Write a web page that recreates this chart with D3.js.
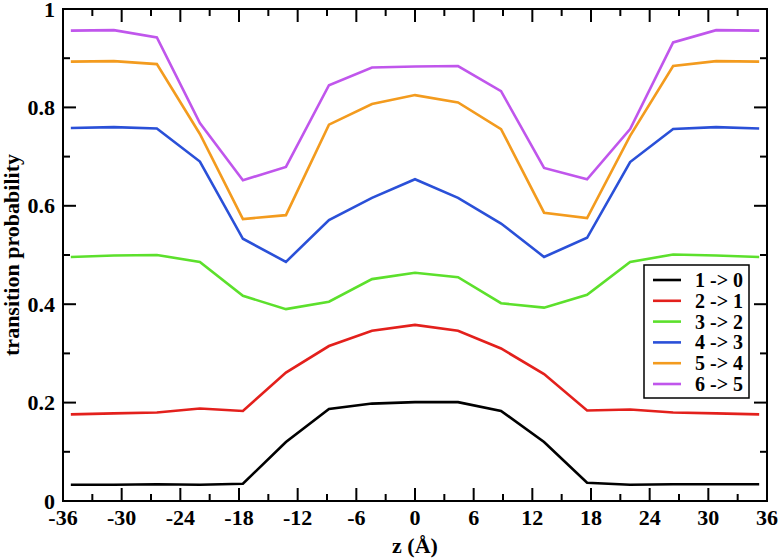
<!DOCTYPE html>
<html><head><meta charset="utf-8">
<script src="https://cdn.jsdelivr.net/npm/d3@7"></script>
<style>body{margin:0;background:#fff}svg{display:block}</style>
</head><body>
<script>
const zValues = [-35.2,-30.8,-26.4,-22,-17.6,-13.2,-8.8,-4.4,0,4.4,8.8,13.2,17.6,22,26.4,30.8,35.2];
const s10 = [0.033,0.033,0.034,0.033,0.035,0.120,0.187,0.198,0.201,0.201,0.183,0.120,0.037,0.033,0.034,0.034,0.034];
const s21 = [0.176,0.178,0.180,0.188,0.183,0.261,0.315,0.346,0.358,0.346,0.310,0.258,0.184,0.186,0.180,0.178,0.176];
const s32 = [0.496,0.499,0.500,0.486,0.417,0.390,0.405,0.451,0.464,0.455,0.402,0.393,0.419,0.486,0.501,0.499,0.496];
const s43 = [0.758,0.760,0.757,0.690,0.533,0.486,0.571,0.616,0.654,0.616,0.564,0.496,0.535,0.689,0.756,0.760,0.757];
const s54 = [0.893,0.894,0.888,0.746,0.573,0.581,0.765,0.807,0.825,0.810,0.756,0.586,0.575,0.742,0.884,0.894,0.893];
const s65 = [0.956,0.957,0.942,0.768,0.652,0.679,0.845,0.881,0.883,0.884,0.833,0.677,0.654,0.756,0.932,0.957,0.956];
const seriesNames = ["1 -> 0","2 -> 1","3 -> 2","4 -> 3","5 -> 4","6 -> 5"];
const seriesColors = ["#000000","#e3201c","#5ce02c","#2a50d8","#f39b1e","#c056ec"];
const xTicks = [-36,-30,-24,-18,-12,-6,0,6,12,18,24,30,36];
const yTickLabels = ["0","0.2","0.4","0.6","0.8","1"];
const xLabel = "z (Å)";
const yLabel = "transition probability";

const series = [s10,s21,s32,s43,s54,s65];
const W = 780, H = 559;
const m = {left:63, right:13, top:9, bottom:58};
const iw = W - m.left - m.right, ih = H - m.top - m.bottom;
const svg = d3.select("body").append("svg").attr("width",W).attr("height",H);
const g = svg.append("g").attr("transform",`translate(${m.left},${m.top})`);
const x = d3.scaleLinear().domain([-36,36]).range([0,iw]);
const y = d3.scaleLinear().domain([0,1]).range([ih,0]);
const font = "'Liberation Serif', 'Times New Roman', serif";

// lines
const line = d3.line().x((d,i)=>x(zValues[i])).y(d=>y(d));
series.forEach((s,k)=>{
  g.append("path").datum(s).attr("d",line).attr("fill","none")
   .attr("stroke",seriesColors[k]).attr("stroke-width",2.6).attr("stroke-linejoin","miter");
});

// frame
g.append("rect").attr("x",0).attr("y",0).attr("width",iw).attr("height",ih)
 .attr("fill","none").attr("stroke","#000").attr("stroke-width",2);

const major = 13, minor = 7;
const xMinor = d3.range(-33,36,6);
const yMinor = [0.1,0.3,0.5,0.7,0.9];
const yMajor = yTickLabels.map(Number);
const tk = g.append("g").attr("stroke","#000").attr("stroke-width",2);
xTicks.forEach(v=>{
  tk.append("line").attr("x1",x(v)).attr("x2",x(v)).attr("y1",ih).attr("y2",ih-major);
  tk.append("line").attr("x1",x(v)).attr("x2",x(v)).attr("y1",0).attr("y2",major);
});
xMinor.forEach(v=>{
  tk.append("line").attr("x1",x(v)).attr("x2",x(v)).attr("y1",ih).attr("y2",ih-minor);
  tk.append("line").attr("x1",x(v)).attr("x2",x(v)).attr("y1",0).attr("y2",minor);
});
yMajor.forEach(v=>{
  tk.append("line").attr("x1",0).attr("x2",major).attr("y1",y(v)).attr("y2",y(v));
  tk.append("line").attr("x1",iw).attr("x2",iw-major).attr("y1",y(v)).attr("y2",y(v));
});
yMinor.forEach(v=>{
  tk.append("line").attr("x1",0).attr("x2",minor).attr("y1",y(v)).attr("y2",y(v));
  tk.append("line").attr("x1",iw).attr("x2",iw-minor).attr("y1",y(v)).attr("y2",y(v));
});

// tick labels
g.append("g").selectAll("text").data(xTicks).join("text")
 .attr("x",d=>x(d)).attr("y",ih+24).attr("text-anchor","middle")
 .attr("font-family",font).attr("font-weight","bold").attr("font-size",22)
 .text(d=>d);
g.append("g").selectAll("text").data(yTickLabels).join("text")
 .attr("x",-8).attr("y",d=>y(+d)+7.5).attr("text-anchor","end")
 .attr("font-family",font).attr("font-weight","bold").attr("font-size",22)
 .text(d=>d);

// axis labels
svg.append("text").attr("x",m.left+iw/2).attr("y",553).attr("text-anchor","middle")
 .attr("font-family",font).attr("font-weight","bold").attr("font-size",22).text(xLabel);
svg.append("text").attr("transform",`translate(19,${m.top+ih/2}) rotate(-90)`)
 .attr("text-anchor","middle").attr("font-family",font).attr("font-weight","bold")
 .attr("font-size",22).text(yLabel);

// legend
const lg = svg.append("g");
lg.append("rect").attr("x",644).attr("y",265).attr("width",105).attr("height",133)
 .attr("fill","#fff").attr("stroke","#000").attr("stroke-width",1.5);
seriesNames.forEach((n,k)=>{
  const yy = 280 + k*20.8;
  lg.append("line").attr("x1",653).attr("x2",681).attr("y1",yy).attr("y2",yy)
    .attr("stroke",seriesColors[k]).attr("stroke-width",2.6);
  lg.append("text").attr("x",695).attr("y",yy+7)
    .attr("font-family",font).attr("font-weight","bold").attr("font-size",20).text(n);
});
</script>
</body></html>
